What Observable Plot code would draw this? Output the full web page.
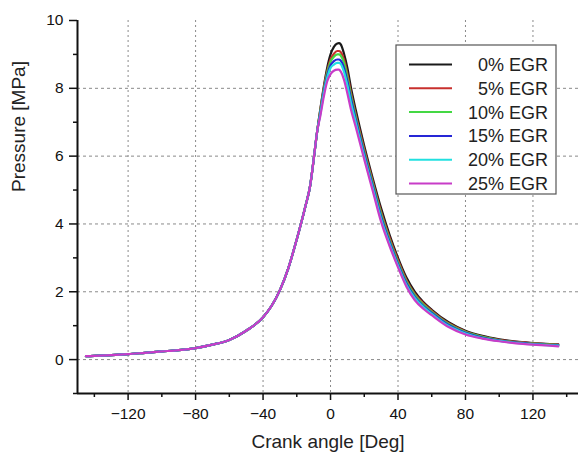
<!DOCTYPE html>
<html>
<head>
<meta charset="utf-8">
<script src="https://cdn.jsdelivr.net/npm/d3@7"></script>
<script src="https://cdn.jsdelivr.net/npm/@observablehq/plot@0.6"></script>
<style>
  html, body { margin: 0; padding: 0; background: #fff; }
  #chart { width: 578px; height: 452px; }
  svg { font-family: "Liberation Sans", Arial, sans-serif; }
</style>
</head>
<body>
<div id="chart"></div>
<script>
// Crank angle (deg) shared compression stroke (all EGR rates overlap)
const compressionAngles = [-145, -140, -130, -120, -110, -100, -90, -80, -70, -60, -50, -40, -35, -30, -25, -20, -15, -12, -10, -8];
const compressionPressure = [0.10, 0.11, 0.13, 0.16, 0.20, 0.24, 0.28, 0.34, 0.44, 0.58, 0.85, 1.25, 1.58, 2.05, 2.70, 3.55, 4.50, 5.15, 5.90, 6.70];

// Crank angle (deg) for combustion / expansion part
const combustionAngles = [-6, -4, -2, 0, 2, 4, 5, 6, 8, 10, 12, 15, 20, 25, 30, 35, 40, 45, 50, 55, 60, 70, 80, 90, 100, 110, 120, 130, 135];
const egr0  = [7.40, 8.05, 8.60, 9.00, 9.22, 9.32, 9.33, 9.30, 9.02, 8.60, 8.05, 7.35, 6.30, 5.35, 4.46, 3.68, 3.00, 2.42, 2.00, 1.70, 1.47, 1.10, 0.85, 0.70, 0.60, 0.53, 0.49, 0.46, 0.45];
const egr5  = [7.38, 8.00, 8.50, 8.85, 9.02, 9.10, 9.10, 9.07, 8.85, 8.42, 7.90, 7.22, 6.20, 5.26, 4.36, 3.60, 2.93, 2.35, 1.94, 1.66, 1.44, 1.07, 0.83, 0.68, 0.58, 0.52, 0.48, 0.45, 0.44];
const egr10 = [7.35, 7.95, 8.45, 8.78, 8.93, 9.00, 9.00, 8.97, 8.75, 8.32, 7.82, 7.15, 6.13, 5.20, 4.29, 3.53, 2.87, 2.30, 1.90, 1.62, 1.41, 1.05, 0.81, 0.67, 0.57, 0.51, 0.47, 0.44, 0.43];
const egr15 = [7.30, 7.90, 8.37, 8.68, 8.80, 8.85, 8.85, 8.82, 8.60, 8.20, 7.72, 7.07, 6.06, 5.13, 4.21, 3.47, 2.82, 2.25, 1.85, 1.58, 1.38, 1.02, 0.79, 0.65, 0.56, 0.50, 0.46, 0.43, 0.42];
const egr20 = [7.25, 7.85, 8.30, 8.60, 8.70, 8.75, 8.75, 8.72, 8.48, 8.08, 7.60, 6.98, 5.98, 5.06, 4.14, 3.41, 2.77, 2.20, 1.81, 1.55, 1.35, 0.99, 0.77, 0.63, 0.55, 0.49, 0.45, 0.42, 0.41];
const egr25 = [7.20, 7.75, 8.20, 8.42, 8.52, 8.55, 8.55, 8.50, 8.25, 7.85, 7.40, 6.85, 5.90, 4.98, 4.06, 3.35, 2.72, 2.15, 1.75, 1.50, 1.31, 0.96, 0.74, 0.62, 0.54, 0.48, 0.44, 0.41, 0.39];

const seriesNames = ["0% EGR", "5% EGR", "10% EGR", "15% EGR", "20% EGR", "25% EGR"];
const seriesValues = [egr0, egr5, egr10, egr15, egr20, egr25];
const seriesColors = ["#1a1a1a", "#c8302e", "#44d844", "#2626d6", "#22e0e0", "#c83cc8"];

const xMajorTicks = [-120, -80, -40, 0, 40, 80, 120];
const xMinorTicks = [-140, -100, -60, -20, 20, 60, 100, 140];
const yMajorTicks = [0, 2, 4, 6, 8, 10];
const yGridTicks = [0, 2, 4, 6, 8];
const yMinorTicks = [-1, 1, 3, 5, 7, 9];

const xLabel = "Crank angle [Deg]";
const yLabel = "Pressure [MPa]";

const data = [];
seriesNames.forEach((name, i) => {
  compressionAngles.forEach((a, j) => data.push({series: name, angle: a, pressure: compressionPressure[j]}));
  combustionAngles.forEach((a, j) => data.push({series: name, angle: a, pressure: seriesValues[i][j]}));
});

const chart = Plot.plot({
  width: 578,
  height: 452,
  marginLeft: 77,
  marginRight: 0,
  marginTop: 20,
  marginBottom: 59,
  style: {fontFamily: "'Liberation Sans', Arial, sans-serif", fontSize: "15.5px", color: "#111", background: "#fff"},
  x: {domain: [-150, 147]},
  y: {domain: [-1, 10]},
  color: {domain: seriesNames, range: seriesColors},
  marks: [
    Plot.gridX(xMajorTicks, {stroke: "#8a8a8a", strokeOpacity: 1, strokeDasharray: "2,3", strokeWidth: 1}),
    Plot.gridY(yGridTicks, {stroke: "#8a8a8a", strokeOpacity: 1, strokeDasharray: "3,3", strokeWidth: 1}),
    ...seriesNames.map(name => Plot.line(data.filter(d => d.series === name), {
      x: "angle", y: "pressure", stroke: "series", strokeWidth: 2.2, curve: "monotone-x"
    })),
    Plot.axisX(xMajorTicks, {tickSize: 7, tickPadding: 7, strokeWidth: 1.5, label: null, fontSize: 15.5}),
    Plot.axisX(xMinorTicks, {tickSize: 4, strokeWidth: 1.5, text: null, label: null}),
    Plot.axisY(yMajorTicks, {tickSize: 8, tickPadding: 6, strokeWidth: 1.5, label: null, fontSize: 15.5}),
    Plot.axisY(yMinorTicks, {tickSize: 4, strokeWidth: 1.5, text: null, label: null}),
    Plot.ruleY([-1], {stroke: "#111", strokeWidth: 2}),
    Plot.ruleX([-150], {stroke: "#111", strokeWidth: 2}),
    Plot.text([xLabel], {frameAnchor: "bottom", dy: 48, lineAnchor: "middle", fontSize: 19, fill: "#222"}),
    Plot.text([yLabel], {frameAnchor: "left", dx: -59, dy: -15, rotate: -90, lineAnchor: "middle", fontSize: 19, fill: "#222"})
  ]
});

// Legend box (inside the plot area, top right)
const svg = d3.select(chart);
const lg = svg.append("g").attr("font-family", "'Liberation Sans', Arial, sans-serif");
lg.append("rect").attr("x", 396).attr("y", 45).attr("width", 160).attr("height", 149)
  .attr("fill", "#fff").attr("stroke", "#555").attr("stroke-width", 1.2);
seriesNames.forEach((name, i) => {
  const y = 64.5 + i * 23.8;
  lg.append("line").attr("x1", 409).attr("x2", 452).attr("y1", y).attr("y2", y)
    .attr("stroke", seriesColors[i]).attr("stroke-width", 2);
  lg.append("text").attr("x", 548).attr("y", y).attr("dy", "0.36em")
    .attr("text-anchor", "end").attr("font-size", 18).attr("fill", "#222").text(name);
});

document.getElementById("chart").appendChild(chart);
</script>
</body>
</html>
